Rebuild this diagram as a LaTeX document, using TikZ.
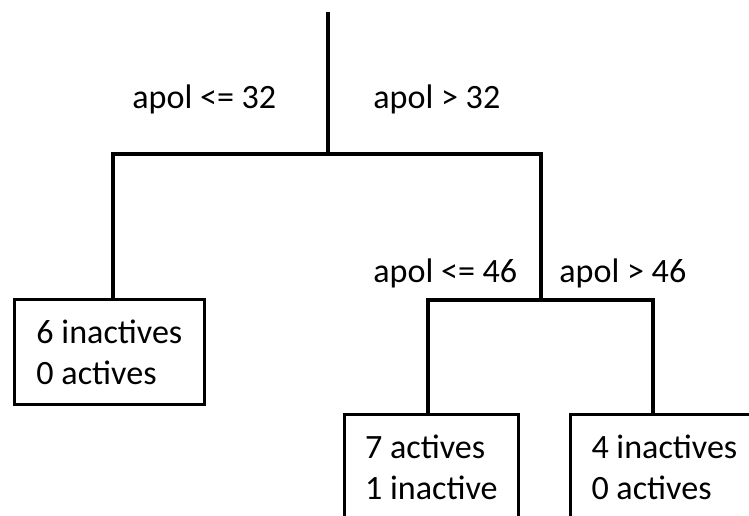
\documentclass[tikz,border=0pt]{standalone}
\usepackage{fontspec}
\setmainfont{Carlito}

\begin{document}
\begin{tikzpicture}[
		x=0.02cm,
		y=-0.02cm,
		branch/.style={line width=2.7pt},
		every node/.style={font=\fontsize{19.4}{23.3}\selectfont},
		leaf/.style={draw,line width=1.6pt,anchor=north west,inner sep=0pt,minimum height=2.1cm,align=left},
		cond/.style={inner sep=0pt,anchor=base west}
	]
		\useasboundingbox (0,0) rectangle (749,515);

		% Splits
		\coordinate (top) at (328,12);
		\coordinate (s1) at (328,154);
		\coordinate (s1l) at (113,154);
		\coordinate (s1r) at (541,154);
		\coordinate (s2) at (541,300);
		\coordinate (s2l) at (428,300);
		\coordinate (s2r) at (653,300);

		% Leaves
		\node[leaf, minimum width=3.8cm] (l1) at (13,298) {6 inactives\\0 actives};
		\node[leaf, minimum width=3.48cm] (l2) at (343,413) {7 actives\\1 inactive};
		\node[leaf, minimum width=3.76cm] (l3) at (569,413) {4 inactives\\0 actives};

		% Labels
		\node[cond] (c1) at (132,108) {apol <= 32};
		\node[cond] (c2) at (373,108) {apol > 32};
		\node[cond] (c3) at (373,282) {apol <= 46};
		\node[cond] (c4) at (559,282) {apol > 46};

		% Branches
		\draw[branch] (top) -- (s1);
		\draw[branch] (s1l |- l1.north) -- (s1l) -- (s1r) -- (s2);
		\draw[branch] (s2l |- l2.north) -- (s2l) -- (s2r) -- (s2r |- l3.north);
	\end{tikzpicture}
\end{document}
